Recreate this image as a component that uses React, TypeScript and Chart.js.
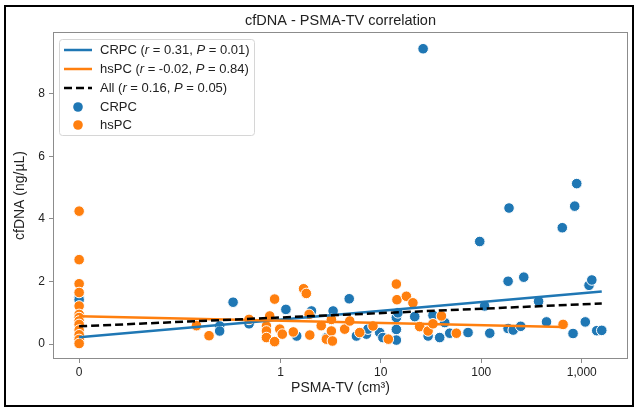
import React, { useEffect, useRef } from 'react';
import { Chart, registerables } from 'chart.js';

Chart.register(...registerables);

// ---- data (PSMA-TV in cm³, cfDNA in ng/µL) ----
const crpcTV = [
  0, 0, 0, 0.24, 0.24, 0.33, 0.48, 1.13, 1.45, 2.04, 2.88, 3.35, 4.85, 5.72, 7.2, 7.47,
  9.76, 10.5, 14.3, 14.3, 14.3, 14.8, 21.8, 26.4, 29.6, 33.1, 38.6, 43.3, 48.6, 73.9,
  96.6, 108, 121.6, 185, 185, 189, 208, 247, 265, 372, 446, 640, 819, 851, 891, 1084,
  1181, 1259, 1410, 1581,
];
const crpcDNA = [
  1.5, 1.42, 0.22, 0.58, 0.42, 1.34, 0.65, 1.11, 0.26, 1.06, 0.21, 1.06, 1.45, 0.26, 0.32, 0.48,
  0.37, 0.21, 0.47, 0.13, 0.85, 1.0, 0.88, 9.44, 0.26, 0.92, 0.21, 0.69, 0.35, 0.37,
  3.28, 1.22, 0.35, 2.01, 0.5, 4.35, 0.45, 0.57, 2.14, 1.37, 0.71, 3.72, 0.34, 4.41, 5.13, 0.71,
  1.88, 2.05, 0.43, 0.44,
];
const hspcTV = [
  0, 0, 0, 0, 0, 0, 0, 0, 0, 0, 0, 0, 0,
  0.137, 0.186, 0.48, 0.72, 0.72, 0.72, 0.777, 0.87, 0.87, 0.98, 1.04, 1.34, 1.7, 1.81,
  1.93, 1.96, 2.55, 2.87, 3.22, 3.22, 3.3, 4.37, 4.91, 6.17, 8.37, 11.9, 14.3, 14.5,
  18.0, 20.9, 24.4, 29.6, 33.1, 40.2, 56.6, 652,
];
const hspcDNA = [
  4.25, 2.7, 1.93, 1.65, 1.22, 0.95, 0.85, 0.74, 0.63, 0.45, 0.3, 0.15, 0.02,
  0.59, 0.27, 0.79, 0.58, 0.42, 0.21, 0.9, 1.44, 0.08, 0.48, 0.32, 0.39, 1.77, 1.62,
  0.95, 0.29, 0.59, 0.16, 0.79, 0.42, 0.1, 0.48, 0.74, 0.37, 0.58, 0.16, 1.92, 1.42,
  1.53, 1.32, 0.56, 0.42, 0.65, 0.9, 0.35, 0.63,
];

// regression line end points
const crpcFitTV = [0, 1581];
const crpcFitDNA = [0.22, 1.68];
const hspcFitTV = [0, 652];
const hspcFitDNA = [0.89, 0.55];
const allFitTV = [0, 1581];
const allFitDNA = [0.57, 1.3];

const xTickValues = [0, 1, 10, 100, 1000];
const xTickLabels = ['0', '1', '10', '100', '1,000'];
const yTickValues = [0, 2, 4, 6, 8];

const titleText = 'cfDNA - PSMA-TV correlation';
const xTitle = 'PSMA-TV (cm³)';
const yTitle = 'cfDNA (ng/µL)';

const legendLines = [
  { name: 'CRPC', r: '0.31', p: '0.01' },
  { name: 'hsPC', r: '-0.02', p: '0.84' },
  { name: 'All', r: '0.16', p: '0.05' },
];
const legendMarkers = ['CRPC', 'hsPC'];

const BLUE = '#1f77b4';
const ORANGE = '#ff7f0e';
const FONT = '"Liberation Sans", Arial, Helvetica, sans-serif';

const toAxis = (tv: number) => Math.log10(tv + 0.01);
const pts = (xs: number[], ys: number[]) => xs.map((v, i) => ({ x: toAxis(v), y: ys[i] }));

const decorPlugin = {
  id: 'decor',
  beforeDraw(chart: any) {
    const ctx = chart.ctx;
    ctx.save();
    ctx.fillStyle = '#fff';
    ctx.fillRect(0, 0, chart.width, chart.height);
    ctx.restore();
  },
  afterDraw(chart: any) {
    const ctx = chart.ctx as CanvasRenderingContext2D;
    const a = chart.chartArea;
    ctx.save();
    // axes frame
    ctx.strokeStyle = '#8c8c8c';
    ctx.lineWidth = 1;
    ctx.strokeRect(a.left + 0.5, a.top + 0.5, a.right - a.left - 1, a.bottom - a.top - 1);
    // outer border
    ctx.strokeStyle = '#000';
    ctx.lineWidth = 2;
    ctx.strokeRect(5, 6, 628, 400);
    // title
    ctx.fillStyle = '#222';
    ctx.font = `14.5px ${FONT}`;
    ctx.textAlign = 'center';
    ctx.textBaseline = 'middle';
    ctx.fillText(titleText, (a.left + a.right) / 2, 21);

    // legend
    const bx = 59, by = 39, bw = 195, bh = 96;
    ctx.beginPath();
    (ctx as any).roundRect(bx + 0.5, by + 0.5, bw, bh, 3);
    ctx.fillStyle = 'rgba(255,255,255,0.85)';
    ctx.fill();
    ctx.strokeStyle = '#d6d6d6';
    ctx.lineWidth = 1;
    ctx.stroke();

    const rowY = [50, 69, 88, 107, 125];
    const lineColors = [BLUE, ORANGE, '#000'];
    const textX = 100;
    ctx.textAlign = 'left';
    ctx.textBaseline = 'middle';
    const drawSegs = (segs: [string, boolean][], y: number) => {
      let x = textX;
      for (const [t, it] of segs) {
        ctx.font = `${it ? 'italic ' : ''}13px ${FONT}`;
        ctx.fillStyle = '#222';
        ctx.fillText(t, x, y);
        x += ctx.measureText(t).width;
      }
    };
    legendLines.forEach((l, i) => {
      const y = rowY[i];
      ctx.beginPath();
      ctx.strokeStyle = lineColors[i];
      ctx.lineWidth = 2.5;
      ctx.setLineDash(i === 2 ? [8, 4] : []);
      ctx.moveTo(64, y);
      ctx.lineTo(92, y);
      ctx.stroke();
      ctx.setLineDash([]);
      drawSegs(
        [
          [`${l.name} (`, false],
          ['r', true],
          [` = ${l.r}, `, false],
          ['P', true],
          [` = ${l.p})`, false],
        ],
        y
      );
    });
    legendMarkers.forEach((m, i) => {
      const y = rowY[3 + i];
      ctx.beginPath();
      ctx.arc(78, y, 4.8, 0, Math.PI * 2);
      ctx.fillStyle = i === 0 ? BLUE : ORANGE;
      ctx.fill();
      drawSegs([[m, false]], y);
    });
    ctx.restore();
  },
};

export default function App() {
  const ref = useRef<HTMLCanvasElement>(null);
  useEffect(() => {
    document.body.style.margin = '0';
    const lineDs = (xs: number[], ys: number[], color: string, dash: number[] = []) => ({
      data: pts(xs, ys),
      showLine: true,
      borderColor: color,
      borderWidth: 2.5,
      borderDash: dash,
      pointRadius: 0,
      fill: false,
    });
    const chart = new Chart(ref.current as HTMLCanvasElement, {
      type: 'scatter',
      data: {
        datasets: [
          lineDs(allFitTV, allFitDNA, '#000', [8, 4]),
          lineDs(hspcFitTV, hspcFitDNA, ORANGE),
          lineDs(crpcFitTV, crpcFitDNA, BLUE),
          {
            data: pts(hspcTV, hspcDNA),
            backgroundColor: ORANGE,
            borderColor: '#fff',
            borderWidth: 1,
            pointRadius: 5.3,
          },
          {
            data: pts(crpcTV, crpcDNA),
            backgroundColor: BLUE,
            borderColor: '#fff',
            borderWidth: 1,
            pointRadius: 5.3,
          },
        ] as any,
      },
      plugins: [decorPlugin],
      options: {
        responsive: false,
        animation: false,
        devicePixelRatio: 1,
        layout: { padding: { left: 0, right: 10, top: 32, bottom: 0 } },
        plugins: {
          legend: { display: false },
          title: { display: false },
          tooltip: { enabled: false },
        },
        scales: {
          x: {
            type: 'linear',
            min: -2.26,
            max: 3.46,
            border: { display: false },
            grid: { drawOnChartArea: false, drawTicks: true, tickLength: 4, color: '#8c8c8c' },
            afterBuildTicks: (s: any) => {
              s.ticks = xTickValues.map((v) => ({ value: toAxis(v) }));
            },
            afterFit: (s: any) => {
              s.height = 49;
            },
            ticks: {
              padding: 2,
              color: '#222',
              font: { size: 12, family: FONT },
              maxRotation: 0,
              autoSkip: false,
              callback: (_v: any, i: number) => xTickLabels[i],
            },
            title: {
              display: true,
              text: xTitle,
              color: '#222',
              font: { size: 14, family: FONT },
              padding: { top: 0, bottom: 11 },
            },
          },
          y: {
            type: 'linear',
            min: -0.475,
            max: 9.975,
            border: { display: false },
            grid: { drawOnChartArea: false, drawTicks: true, tickLength: 4, color: '#8c8c8c' },
            afterBuildTicks: (s: any) => {
              s.ticks = yTickValues.map((v) => ({ value: v }));
            },
            afterFit: (s: any) => {
              s.width = 53;
            },
            ticks: {
              padding: 4,
              color: '#222',
              font: { size: 12, family: FONT },
              autoSkip: false,
              callback: (v: any) => String(v),
            },
            title: {
              display: true,
              text: yTitle,
              color: '#222',
              font: { size: 14, family: FONT },
              padding: { top: 12, bottom: 0 },
            },
          },
        },
      } as any,
    });
    return () => chart.destroy();
  }, []);
  return (
    <div style={{ width: 638, height: 408 }}>
      <canvas ref={ref} width={638} height={408} style={{ display: 'block' }} />
    </div>
  );
}
